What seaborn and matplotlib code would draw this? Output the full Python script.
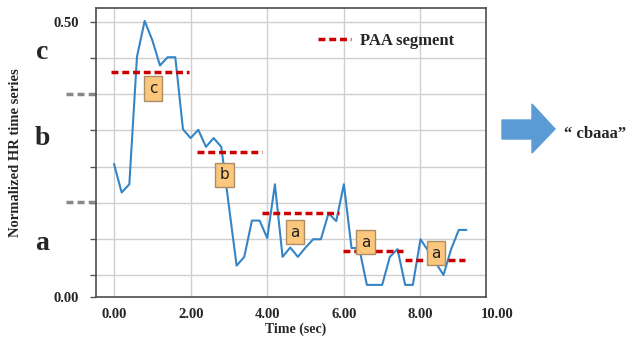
import numpy as np
import pandas as pd
import matplotlib
matplotlib.use("Agg")
import matplotlib.pyplot as plt
import matplotlib.transforms as mtransforms
from matplotlib.patches import Polygon
import seaborn as sns

# normalized HR series, one sample every 0.2 s
time_sec = [0.0, 0.2, 0.4, 0.6, 0.8, 1.0, 1.2, 1.4, 1.6, 1.8, 2.0, 2.2, 2.4, 2.6, 2.8,
            3.0, 3.2, 3.4, 3.6, 3.8, 4.0, 4.2, 4.4, 4.6, 4.8, 5.0, 5.2, 5.4, 5.6, 5.8,
            6.0, 6.2, 6.4, 6.6, 6.8, 7.0, 7.2, 7.4, 7.6, 7.8, 8.0, 8.2, 8.4, 8.6, 8.8,
            9.0, 9.2]
hr_norm = [0.242, 0.190, 0.205, 0.437, 0.502, 0.467, 0.421, 0.436, 0.436, 0.305,
           0.289, 0.304, 0.273, 0.289, 0.273, 0.165, 0.057, 0.073, 0.139, 0.139,
           0.107, 0.205, 0.073, 0.090, 0.073, 0.090, 0.105, 0.105, 0.152, 0.138,
           0.205, 0.089, 0.089, 0.022, 0.022, 0.022, 0.073, 0.087, 0.022, 0.022,
           0.105, 0.084, 0.062, 0.040, 0.087, 0.122, 0.122]

# PAA segments
paa_start = [-0.08, 2.16, 3.87, 5.98, 7.59]
paa_end = [1.96, 3.85, 5.88, 7.54, 9.15]
paa_level = [0.410, 0.263, 0.152, 0.084, 0.067]
paa_symbol = ["c", "b", "a", "a", "a"]
# where the symbol boxes sit
box_x = [1.02, 2.88, 4.72, 6.56, 8.41]
box_y = [0.379, 0.222, 0.118, 0.100, 0.080]

# SAX alphabet regions and breakpoints
alphabet = ["c", "b", "a"]
alphabet_y = [0.445, 0.289, 0.098]
breakpoints = [0.173, 0.369]

grid_y = [0.0, 0.040, 0.106, 0.171, 0.237, 0.303, 0.369, 0.434, 0.5]
grid_y_labels = ["0.00", "", "", "", "", "", "", "", "0.50"]
x_ticks = [0, 2, 4, 6, 8]
x_tick_labels = ["0.00", "2.00", "4.00", "6.00", "8.00"]

df = pd.DataFrame({"time": time_sec, "hr": hr_norm})

sns.set_style("whitegrid")
serif = ["Liberation Serif", "DejaVu Serif"]

fig = plt.figure(figsize=(6.36, 3.43), dpi=100)
ax = fig.add_axes([96 / 636, 46 / 343, 390 / 636, 289 / 343])

sns.lineplot(data=df, x="time", y="hr", ax=ax, color="#3585c6", linewidth=1.5)
ax.hlines(paa_level, paa_start, paa_end, colors="#cc0000", linewidth=2.5,
          linestyles=(0, (2, 1.1)), label="PAA segment", zorder=3)

for sx, sy, s in zip(box_x, box_y, paa_symbol):
    ax.text(sx, sy, s, ha="center", va="center", fontsize=11, color="#222222",
            family="DejaVu Sans", zorder=4,
            bbox=dict(boxstyle="square,pad=0.3", facecolor="#fbc77d",
                      edgecolor="#a98e66", linewidth=1))

ax.set_xlim(-0.47, 9.71)
ax.set_ylim(0, 0.5255)
ax.set_xticks(x_ticks)
ax.set_xticklabels(x_tick_labels)
ax.set_yticks(grid_y)
ax.set_yticklabels(grid_y_labels)
ax.grid(True, color="#cfcfcf", linewidth=1)
for s in ax.spines.values():
    s.set_color("#4d4d4d")
    s.set_linewidth(1.2)
ax.tick_params(axis="y", length=4, width=1, color="#555555", pad=8, left=True)
ax.tick_params(axis="x", length=0, pad=8)
for lab in ax.get_xticklabels() + ax.get_yticklabels():
    lab.set_family(serif)
    lab.set_fontweight("bold")
    lab.set_fontsize(10.5)

# 10.00 sits past the right spine
ax.annotate("10.00", xy=(10, 0), xycoords=("data", "axes fraction"),
            xytext=(0, -8), textcoords="offset points", ha="center", va="top",
            family=serif, fontweight="bold", fontsize=10.5, annotation_clip=False)

ax.set_xlabel("Time (sec)", family=serif, fontweight="bold", fontsize=10)
ax.set_ylabel("Normalized HR time series", family=serif, fontweight="bold", fontsize=10.5)
ax.xaxis.set_label_coords(0.513, -0.087)
ax.yaxis.set_label_coords(-0.19, 0.5)

# alphabet letters and breakpoint marks left of the axis
trans = mtransforms.blended_transform_factory(ax.transAxes, ax.transData)
for lv, ly in zip(alphabet, alphabet_y):
    ax.text(-0.138, ly, lv, transform=trans, ha="center", va="center",
            family=serif, fontweight="bold", fontsize=20, clip_on=False)
for bp in breakpoints:
    ax.plot([-0.077, 0.0], [bp, bp], transform=trans, color="#888888",
            linewidth=2.5, linestyle=(0, (2, 1.2)), clip_on=False)

leg = ax.legend(loc="center left", bbox_to_anchor=((318 - 96) / 390, (297 - 41) / 289),
                frameon=False, borderpad=0, borderaxespad=0, handlelength=2.0,
                handletextpad=0.5, prop={"family": serif, "weight": "bold", "size": 12})

# arrow to the SAX word
arrow_px = [(502, 120), (532, 120), (532, 104), (555, 129), (532, 153), (532, 139), (502, 139)]
fig.patches.append(Polygon([(x / 636, 1 - y / 343) for x, y in arrow_px],
                           closed=True, transform=fig.transFigure,
                           facecolor="#5b9bd5", edgecolor="#5b9bd5"))
fig.text(595 / 636, 1 - 134 / 343, "\u201c cbaaa\u201d", ha="center", va="center",
         family=serif, fontweight="bold", fontsize=12)

fig.savefig("out.png", dpi=100)
